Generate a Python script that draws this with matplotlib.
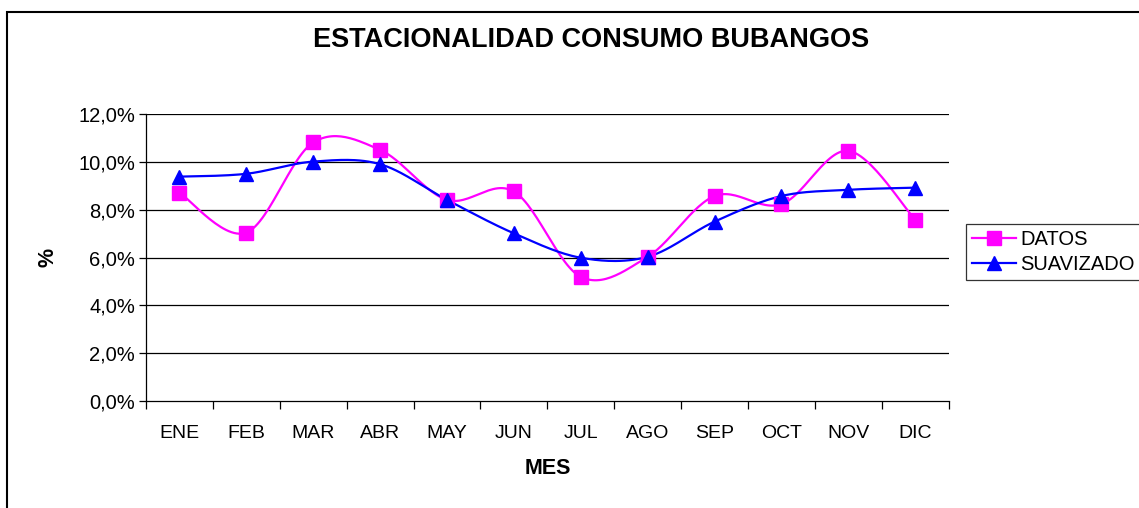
import numpy as np
import matplotlib.pyplot as plt
from matplotlib.patches import Rectangle
from matplotlib.ticker import FuncFormatter, FixedLocator

plt.rcParams['font.family'] = ['Liberation Sans', 'DejaVu Sans']

meses = ['ENE', 'FEB', 'MAR', 'ABR', 'MAY', 'JUN', 'JUL', 'AGO', 'SEP', 'OCT', 'NOV', 'DIC']
datos = [8.71, 7.04, 10.81, 10.50, 8.41, 8.76, 5.19, 6.03, 8.57, 8.23, 10.46, 7.57]
suavizado = [9.38, 9.50, 10.01, 9.90, 8.41, 7.01, 5.99, 6.03, 7.50, 8.57, 8.83, 8.92]


def smooth(xs, ys, n=30):
    # Catmull-Rom style curve, like the smoothed lines in a spreadsheet chart
    xs = np.asarray(xs, float)
    ys = np.asarray(ys, float)
    px = np.concatenate([[xs[0]], xs, [xs[-1]]])
    py = np.concatenate([[ys[0]], ys, [ys[-1]]])
    out_x, out_y = [], []
    t = np.linspace(0, 1, n)
    for i in range(1, len(px) - 2):
        p0x, p1x, p2x, p3x = px[i - 1:i + 3]
        p0y, p1y, p2y, p3y = py[i - 1:i + 3]
        c1x, c1y = p1x + (p2x - p0x) / 6, p1y + (p2y - p0y) / 6
        c2x, c2y = p2x - (p3x - p1x) / 6, p2y - (p3y - p1y) / 6
        bx = (1 - t) ** 3 * p1x + 3 * (1 - t) ** 2 * t * c1x + 3 * (1 - t) * t ** 2 * c2x + t ** 3 * p2x
        by = (1 - t) ** 3 * p1y + 3 * (1 - t) ** 2 * t * c1y + 3 * (1 - t) * t ** 2 * c2y + t ** 3 * p2y
        out_x.extend(bx)
        out_y.extend(by)
    return out_x, out_y


W, H = 1139, 508
fig = plt.figure(figsize=(W / 100, H / 100), dpi=100)
ax = fig.add_axes([146 / W, 1 - 401 / H, 802.7 / W, 287 / H])

x = np.arange(len(meses))
sx, sy = smooth(x, datos)
ax.plot(sx, sy, color='#FF00FF', lw=1.6, zorder=3)
ax.plot(x, datos, ls='none', marker='s', ms=9.5, color='#FF00FF', zorder=4)
sx, sy = smooth(x, suavizado)
ax.plot(sx, sy, color='#0000FF', lw=1.6, zorder=3)
ax.plot(x, suavizado, ls='none', marker='^', ms=10, color='#0000FF', zorder=5)

# legend handles
ax.plot([], [], color='#FF00FF', marker='s', ms=9.5, lw=1.6, label='DATOS')
ax.plot([], [], color='#0000FF', marker='^', ms=10, lw=1.6, label='SUAVIZADO')

ax.set_xlim(-0.5, 11.5)
ax.set_ylim(0, 12)
ax.set_yticks(np.arange(0, 12.1, 2))
ax.yaxis.set_major_formatter(FuncFormatter(lambda v, p: f'{v:.1f}%'.replace('.', ',')))
for v in range(2, 13, 2):
    ax.axhline(v, color='black', lw=0.9, zorder=1)

ax.set_xticks(x)
ax.set_xticklabels(meses)
ax.xaxis.set_minor_locator(FixedLocator(np.arange(-0.5, 12, 1)))
ax.tick_params(axis='x', which='major', length=0, pad=17, labelsize=14)
ax.tick_params(axis='x', which='minor', length=6, width=0.9, direction='out')
ax.tick_params(axis='y', length=5, width=0.9, direction='out', pad=3, labelsize=14.5)

for s in ['top', 'right']:
    ax.spines[s].set_visible(False)
for s in ['left', 'bottom']:
    ax.spines[s].set_linewidth(0.9)

ax.set_xlabel('MES', fontsize=15.5, fontweight='bold', labelpad=12)
ax.set_ylabel('%', fontsize=15.5, fontweight='bold', labelpad=14)
fig.text(591 / W, 1 - 40 / H, 'ESTACIONALIDAD CONSUMO BUBANGOS', ha='center', va='center',
         fontsize=19.5, fontweight='bold')

leg = ax.legend(loc='center left', bbox_to_anchor=(966 / W, 1 - 252 / H), bbox_transform=fig.transFigure,
                frameon=True, fancybox=False, edgecolor='black', fontsize=14.5,
                handlelength=2.2, handletextpad=0.2, borderpad=0.3, labelspacing=0.3, borderaxespad=0)
leg.get_frame().set_linewidth(0.9)

fig.patches.append(Rectangle((7 / W, -0.1), 1.2, 1 - 12 / H + 0.1, transform=fig.transFigure,
                             fill=False, edgecolor='black', lw=1.5))

fig.savefig('out.png', dpi=100)
